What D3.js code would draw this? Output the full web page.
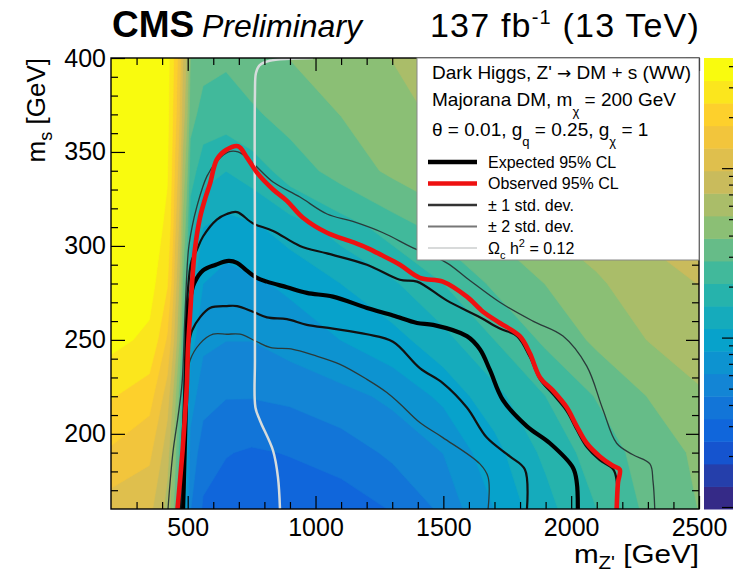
<!doctype html>
<html lang="en">
<head>
<meta charset="utf-8">
<style>
    body { margin: 0; background: #fff; }
    svg text { font-family: "Liberation Sans", Arial, sans-serif; fill: #000; }
</style>
</head>
<body>

<div class="start"></div>

<script src="https://d3js.org/d3.v7.min.js"></script>
<script>

    let mzpGrid = [200, 350, 420, 450, 480, 510, 560, 650, 750, 900, 1100, 1300, 1500, 1700, 1900, 2100, 2300, 2500];
    let msGrid = [160, 190, 220, 250, 280, 310, 340, 370, 400];
    let muRows = [
        [11, 10.5, 6.3, 3.4, 1.14, 0.46, 0.32, 0.28, 0.26, 0.26, 0.28, 0.34, 0.48, 0.84, 1.37, 2.1, 3.0, 3.9],
        [17, 14, 8.0, 4.2, 1.4, 0.55, 0.38, 0.34, 0.32, 0.34, 0.38, 0.48, 0.62, 1.0, 1.65, 2.4, 3.2, 4.1],
        [25, 20, 11, 5.6, 1.8, 0.7, 0.51, 0.46, 0.46, 0.48, 0.55, 0.66, 0.89, 1.37, 2.1, 2.9, 3.9, 5.0],
        [36, 31, 17, 8.5, 2.8, 0.95, 0.66, 0.62, 0.62, 0.7, 0.84, 1.0, 1.37, 2.1, 3.0, 4.1, 5.3, 6.3],
        [40, 37, 25, 11, 3.8, 1.3, 0.84, 0.74, 0.79, 0.89, 1.14, 1.46, 2.1, 3.0, 3.9, 5.0, 6.3, 7.2],
        [40, 39, 31, 14, 5.0, 1.75, 1.14, 1.0, 1.07, 1.3, 1.75, 2.4, 3.2, 4.1, 5.3, 6.3, 7.6, 8.6],
        [40, 40, 34, 17, 6.5, 2.4, 1.75, 1.55, 1.75, 2.4, 3.2, 4.1, 5.0, 5.6, 6.7, 7.6, 8.6, 9.7],
        [40, 40, 36, 20, 8.5, 3.2, 2.5, 2.4, 2.7, 3.2, 3.9, 4.7, 5.6, 6.3, 7.2, 8.1, 9.2, 9.7],
        [40, 40, 37, 22, 10, 3.9, 3.2, 3.0, 3.4, 3.9, 4.7, 5.3, 6.0, 6.7, 7.6, 8.6, 9.7, 10.4]
    ];
    let muRange = [0.098, 45];
    let nLevels = 20;

    // limit contours, [m_Z', m_s] in GeV
    let observed = [[460, 160], [470, 175], [480, 191], [489, 209], [497, 227], [501, 245], [510, 265], [517, 280],
        [528, 298], [548, 315], [570, 326], [587, 333], [614, 346], [650, 351], [697, 353], [732, 347], [771, 339],
        [834, 330], [888, 324], [951, 315], [1045, 307], [1146, 302], [1201, 299], [1260, 295], [1330, 290],
        [1408, 283], [1498, 281], [1592, 273], [1655, 265], [1721, 259], [1799, 252], [1838, 243], [1878, 230],
        [1929, 223], [1983, 214], [2022, 204], [2061, 195], [2112, 188], [2163, 183], [2190, 181], [2183, 174], [2178, 160]];
    let expected = [[482, 160], [486, 180], [490, 200], [494, 220], [497, 235], [501, 262], [509, 271], [525, 280],
        [560, 287], [610, 290], [660, 292], [693, 291], [730, 287], [771, 283], [810, 281], [888, 278], [966, 275],
        [1068, 273], [1201, 267], [1303, 263], [1397, 259], [1460, 258], [1592, 252], [1643, 245], [1682, 234],
        [1733, 218], [1827, 204], [1917, 195], [2007, 182], [2022, 174], [2026, 160]];
    let plus1 = [[470, 160], [478, 190], [486, 220], [492, 250], [500, 275], [515, 292], [536, 298], [560, 305],
        [614, 314], [653, 317], [693, 318], [755, 312], [834, 308], [939, 300], [1045, 296], [1201, 290], [1330, 282],
        [1397, 281], [1513, 271], [1643, 262], [1721, 256], [1788, 252], [1838, 241], [1878, 229], [1929, 221],
        [1983, 212], [2022, 202], [2061, 193], [2112, 186], [2165, 181], [2178, 175], [2180, 160]];
    let minus1 = [[484, 160], [490, 200], [497, 230], [505, 248], [517, 255], [548, 262], [587, 267], [653, 268],
        [693, 268], [755, 265], [810, 262], [888, 261], [966, 258], [1068, 256], [1201, 253], [1303, 249], [1408, 235],
        [1498, 227], [1592, 214], [1670, 198], [1760, 188], [1819, 181], [1827, 160]];
    let plus2 = [[423, 160], [431, 174], [443, 191], [462, 209], [478, 227], [489, 262], [503, 298], [517, 310],
        [536, 321], [575, 337], [614, 345], [660, 350], [697, 350], [740, 346], [771, 342], [834, 334], [939, 326],
        [1045, 317], [1146, 313], [1264, 307], [1381, 299], [1513, 291], [1600, 282], [1721, 270], [1850, 260],
        [1968, 252], [2061, 236], [2124, 213], [2178, 195], [2240, 189], [2308, 184], [2320, 175], [2327, 160]];
    let minus2 = [[486, 160], [492, 200], [500, 228], [509, 239], [548, 248], [599, 253], [653, 253], [705, 253],
        [771, 249], [822, 246], [912, 245], [990, 242], [1096, 237], [1201, 229], [1279, 222], [1330, 216], [1408, 206],
        [1498, 198], [1643, 184], [1675, 177], [1675, 160]];
    let relic = [[861, 160], [853, 177], [834, 191], [783, 207], [765, 214], [763, 240], [763, 300], [763, 380],
        [767, 392], [780, 396], [820, 398.5], [900, 399.6], [990, 400]];

    let xMajor = [500, 1000, 1500, 2000, 2500];
    let yMajor = [200, 250, 300, 350, 400];

    // ROOT kBird palette
    let birdStops = [0, 0.125, 0.25, 0.375, 0.5, 0.625, 0.75, 0.875, 1];
    let birdColors = ['#352a87', '#0f5cdd', '#1481d6', '#06a4ca', '#2eb7a4', '#87bf77', '#d1bb59', '#fec832', '#f9fb0e'];

    let width = 733, height = 574;
    let frame = {left: 111, right: 699, top: 58, bottom: 509};

    let svg = d3.select('.start').append('svg')
        .attr('width', width)
        .attr('height', height);

    let x = d3.scaleLinear().domain([200, 2500]).range([frame.left, frame.right]);
    let y = d3.scaleLinear().domain([160, 400]).range([frame.bottom, frame.top]);
    let palette = d3.scaleLinear().domain(birdStops).range(birdColors);

    let logMin = Math.log10(muRange[0]), logMax = Math.log10(muRange[1]);
    let levels = d3.range(nLevels).map(i => Math.pow(10, logMin + i * (logMax - logMin) / nLevels));
    let levelColor = (i) => palette(i / (nLevels - 1));

    svg.append('defs').append('clipPath').attr('id', 'plotClip')
        .append('rect')
        .attr('x', frame.left).attr('y', frame.top)
        .attr('width', frame.right - frame.left).attr('height', frame.bottom - frame.top);

    // ---- filled contours ----

    let nx = mzpGrid.length, ny = msGrid.length;
    let values = [];
    muRows.forEach(row => row.forEach(v => values.push(v)));

    // contour coords are cell based (sample i sits at i + 0.5)
    let gx = d3.scaleLinear().domain(mzpGrid.map((d, i) => i + 0.5)).range(mzpGrid).clamp(true);
    let gy = d3.scaleLinear().domain(msGrid.map((d, i) => i + 0.5)).range(msGrid).clamp(true);
    let gridPath = d3.geoPath(d3.geoTransform({
        point: function (px, py) {
            this.stream.point(x(gx(px)), y(gy(py)));
        }
    }));

    let contours = d3.contours().size([nx, ny]).thresholds(levels)(values);

    let plot = svg.append('g').attr('clip-path', 'url(#plotClip)');

    plot.append('g').attr('class', 'bands')
        .selectAll('path')
        .data(contours)
        .join('path')
        .attr('d', gridPath)
        .attr('fill', (d, i) => levelColor(i))
        .attr('stroke', (d, i) => levelColor(i))
        .attr('stroke-width', 0.6);

    // ---- limit lines ----

    let line = d3.line()
        .x(d => x(d[0]))
        .y(d => y(d[1]))
        .curve(d3.curveCatmullRom.alpha(0.5));

    let curves = [
        {data: plus2, color: '#2a3a3a', w: 1.3},
        {data: minus2, color: '#2a3a3a', w: 1.3},
        {data: plus1, color: '#111', w: 2.2},
        {data: minus1, color: '#111', w: 2.2},
        {data: expected, color: '#000', w: 4.2},
        {data: relic, color: '#d6dcdc', w: 2.5},
        {data: observed, color: '#ee1111', w: 4.6}
    ];

    plot.append('g').attr('class', 'lines')
        .selectAll('path')
        .data(curves)
        .join('path')
        .attr('d', d => line(d.data))
        .attr('fill', 'none')
        .attr('stroke', d => d.color)
        .attr('stroke-width', d => d.w)
        .attr('stroke-linejoin', 'round');

    // ---- axes, ROOT style (ticks inside, on all four sides) ----

    let xMinor = d3.range(300, 2500, 100).filter(v => xMajor.indexOf(v) < 0);
    let yMinor = d3.range(170, 400, 10).filter(v => yMajor.indexOf(v) < 0);

    function axisGroup(axis, tx, ty) {
        let g = svg.append('g')
            .attr('transform', `translate(${tx},${ty})`)
            .call(axis);
        g.select('.domain').remove();
        g.selectAll('line').attr('stroke', '#000').attr('stroke-width', 1.2);
        g.selectAll('text')
            .style('font-size', '25px')
            .style('font-family', '"Liberation Sans", Arial, sans-serif')
            .attr('fill', '#000');
        return g;
    }

    axisGroup(d3.axisBottom(x).tickValues(xMajor).tickSize(-13).tickPadding(9).tickFormat(d3.format('d')), 0, frame.bottom);
    axisGroup(d3.axisBottom(x).tickValues(xMinor).tickSize(-7).tickFormat(''), 0, frame.bottom);
    axisGroup(d3.axisTop(x).tickValues(xMajor).tickSize(-13).tickFormat(''), 0, frame.top);
    axisGroup(d3.axisTop(x).tickValues(xMinor).tickSize(-7).tickFormat(''), 0, frame.top);

    axisGroup(d3.axisLeft(y).tickValues(yMajor).tickSize(-14).tickPadding(5), frame.left, 0);
    axisGroup(d3.axisLeft(y).tickValues(yMinor).tickSize(-7).tickFormat(''), frame.left, 0);
    axisGroup(d3.axisRight(y).tickValues(yMajor).tickSize(-13).tickFormat(''), frame.right, 0);
    axisGroup(d3.axisRight(y).tickValues(yMinor).tickSize(-7).tickFormat(''), frame.right, 0);

    svg.append('rect')
        .attr('x', frame.left).attr('y', frame.top)
        .attr('width', frame.right - frame.left).attr('height', frame.bottom - frame.top)
        .attr('fill', 'none')
        .attr('stroke', '#000')
        .attr('stroke-width', 1.4);

    // axis titles (ROOT renders these a bit wider than Liberation, so stretch them)
    let xTitle = svg.append('g')
        .attr('transform', `translate(${frame.right},563) scale(1.14,1)`)
        .append('text')
        .attr('text-anchor', 'end')
        .style('font-size', '26px');
    xTitle.append('tspan').text('m');
    xTitle.append('tspan').attr('dy', 6).style('font-size', '18px').text("Z'");
    xTitle.append('tspan').attr('dy', -6).text(' [GeV]');

    let yTitle = svg.append('text')
        .attr('transform', `translate(45,${frame.top}) rotate(-90)`)
        .attr('text-anchor', 'end')
        .style('font-size', '26px');
    yTitle.append('tspan').text('m');
    yTitle.append('tspan').attr('dy', 7).style('font-size', '18px').text('s');
    yTitle.append('tspan').attr('dy', -7).text(' [GeV]');

    // ---- header ----

    svg.append('text')
        .attr('x', 112).attr('y', 37)
        .style('font-size', '37px').style('font-weight', 'bold')
        .text('CMS');
    svg.append('text')
        .attr('x', 202).attr('y', 37)
        .style('font-size', '32px').style('font-style', 'italic')
        .text('Preliminary');

    let lumi = svg.append('text')
        .attr('x', 700).attr('y', 37)
        .attr('text-anchor', 'end')
        .style('font-size', '34px')
        .style('letter-spacing', '1.2px');
    lumi.append('tspan').text('137 fb');
    lumi.append('tspan').attr('dy', -13).style('font-size', '20px').text('-1');
    lumi.append('tspan').attr('dy', 13).text(' (13 TeV)');

    // ---- colour bar (cut by the page edge) ----

    let cbar = d3.scaleLog().domain(muRange).range([frame.bottom, frame.top]);
    let cbarX = 704, cbarRight = 737;
    let bandEdges = levels.concat([muRange[1]]);

    svg.append('g').attr('class', 'palette')
        .selectAll('rect')
        .data(levels)
        .join('rect')
        .attr('x', cbarX)
        .attr('width', cbarRight - cbarX)
        .attr('y', (d, i) => cbar(bandEdges[i + 1]))
        .attr('height', (d, i) => cbar(bandEdges[i]) - cbar(bandEdges[i + 1]) + 0.5)
        .attr('fill', (d, i) => levelColor(i));

    let cbarTicks = cbar.ticks().filter(v => v >= muRange[0] && v <= muRange[1]);
    svg.append('g').attr('class', 'palette-ticks')
        .selectAll('line')
        .data(cbarTicks)
        .join('line')
        .attr('x1', d => Math.abs(Math.log10(d) - Math.round(Math.log10(d))) < 1e-6 ? cbarRight - 15 : cbarRight - 8)
        .attr('x2', cbarRight)
        .attr('y1', d => cbar(d))
        .attr('y2', d => cbar(d))
        .attr('stroke', '#000')
        .attr('stroke-width', 1.2);

    // ---- legend ----

    let legend = svg.append('g').attr('class', 'legend');
    legend.append('rect')
        .attr('x', 417).attr('y', frame.top)
        .attr('width', frame.right - 417).attr('height', 202)
        .attr('fill', '#fff')
        .attr('stroke', '#888')
        .attr('stroke-width', 1);

    let head1 = legend.append('text').attr('x', 432).attr('y', 79).style('font-size', '19px');
    head1.append('tspan').text("Dark Higgs, Z' ");
    head1.append('tspan').style('font-family', '"DejaVu Sans", sans-serif').style('font-size', '17px').text('\u2192');
    head1.append('tspan').text(' DM + s (WW)');

    let head2 = legend.append('text').attr('x', 432).attr('y', 106).style('font-size', '19px');
    head2.append('tspan').text('Majorana DM, m');
    head2.append('tspan').attr('dy', 10).style('font-size', '13px').text('\u03c7');
    head2.append('tspan').attr('dy', -10).text(' = 200 GeV');

    let head3 = legend.append('text').attr('x', 432).attr('y', 136).style('font-size', '19px');
    head3.append('tspan').text('\u03b8 = 0.01, g');
    head3.append('tspan').attr('dy', 10).style('font-size', '13px').text('q');
    head3.append('tspan').attr('dy', -10).text(' = 0.25, g');
    head3.append('tspan').attr('dy', 10).style('font-size', '13px').text('\u03c7');
    head3.append('tspan').attr('dy', -10).text(' = 1');

    let entries = [
        {label: 'Expected 95% CL', color: '#000', w: 4.5},
        {label: 'Observed 95% CL', color: '#ee1111', w: 4.5},
        {label: '\u00b1 1 std. dev.', color: '#333', w: 2.5},
        {label: '\u00b1 2 std. dev.', color: '#777', w: 2.2},
        {label: 'relic', color: '#d8dada', w: 2.2}
    ];
    let entryY = d3.scaleLinear().domain([0, 4]).range([162, 248]);

    let rows = legend.selectAll('g.entry')
        .data(entries)
        .join('g')
        .attr('class', 'entry')
        .attr('transform', (d, i) => `translate(0,${entryY(i)})`);

    rows.append('line')
        .attr('x1', 428).attr('x2', 477)
        .attr('stroke', d => d.color)
        .attr('stroke-width', d => d.w);

    rows.filter(d => d.label !== 'relic')
        .append('text')
        .attr('x', 488).attr('y', 5.5)
        .style('font-size', '16px')
        .text(d => d.label);

    let relicLabel = rows.filter(d => d.label === 'relic')
        .append('text')
        .attr('x', 488).attr('y', 5.5)
        .style('font-size', '16px');
    relicLabel.append('tspan').text('\u03a9');
    relicLabel.append('tspan').attr('dy', 5).style('font-size', '11px').text('c');
    relicLabel.append('tspan').attr('dy', -5).text(' h');
    relicLabel.append('tspan').attr('dy', -7).style('font-size', '11px').text('2');
    relicLabel.append('tspan').attr('dy', 7).text(' = 0.12');

</script>
</body>
</html>
